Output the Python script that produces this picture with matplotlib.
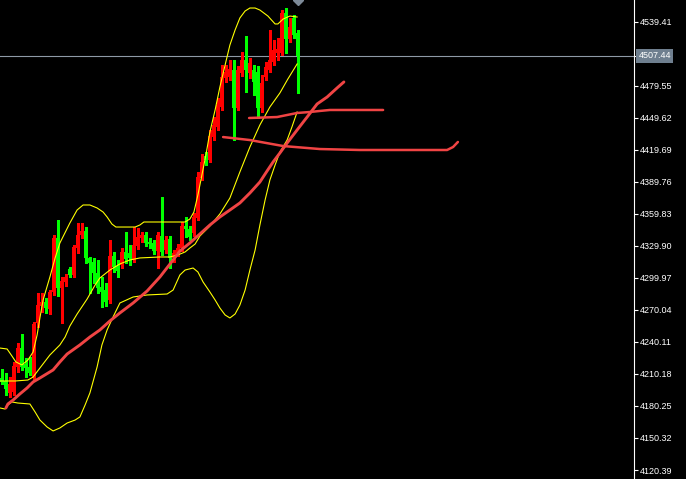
import numpy as np
import matplotlib
matplotlib.use('Agg')
import matplotlib.pyplot as plt

# Candle data (bar index 0..74), prices
opens = [4206.4, 4203.6, 4192.4, 4193.3, 4216.7, 4234.4, 4219.5, 4216.7, 4206.4, 4257.8,
         4273.7, 4277.4, 4270.9, 4286.8, 4337.3, 4290.5, 4296.1, 4308.3, 4302.7, 4327.9,
         4340.1, 4343.8, 4318.6, 4314.8, 4304.5, 4291.4, 4288.7, 4279.3, 4320.4, 4311.1,
         4312.0, 4324.2, 4323.2, 4317.6, 4329.7, 4337.3, 4340.1, 4333.5, 4332.6, 4325.1,
         4339.1, 4326.0, 4336.3, 4318.6, 4323.2, 4327.9, 4348.4, 4345.7, 4341.9, 4355.9,
         4393.3, 4413.9, 4410.2, 4431.7, 4441.0, 4459.7, 4486.8, 4487.7, 4494.3, 4458.8,
         4491.5, 4503.6, 4491.5, 4494.3, 4492.4, 4458.8, 4487.7, 4494.3, 4501.8, 4510.2,
         4510.2, 4547.5, 4523.2, 4542.9, 4528.9]
highs = [4214.8, 4211.1, 4207.3, 4221.4, 4239.1, 4247.5, 4225.1, 4226.0, 4258.7, 4285.8,
         4285.8, 4281.2, 4288.7, 4340.1, 4354.1, 4300.8, 4303.6, 4310.1, 4330.7, 4351.3,
         4351.3, 4347.5, 4319.5, 4318.6, 4316.7, 4300.8, 4295.2, 4335.4, 4324.2, 4316.7,
         4327.9, 4342.9, 4330.7, 4347.5, 4346.6, 4342.9, 4342.9, 4337.3, 4335.4, 4342.9,
         4375.6, 4339.1, 4339.1, 4326.0, 4331.6, 4352.2, 4356.9, 4348.4, 4360.6, 4398.9,
         4415.8, 4417.6, 4438.2, 4450.3, 4468.1, 4498.9, 4498.9, 4503.6, 4503.6, 4498.0,
         4511.1, 4526.0, 4505.5, 4498.9, 4498.0, 4489.6, 4501.8, 4531.7, 4522.3, 4524.2,
         4550.3, 4552.2, 4542.9, 4545.7, 4531.7]
lows = [4200.8, 4190.5, 4188.6, 4190.5, 4212.0, 4213.9, 4207.3, 4209.2, 4204.5, 4254.1,
        4268.1, 4267.2, 4266.2, 4284.0, 4283.0, 4257.8, 4292.4, 4300.8, 4300.8, 4323.2,
        4337.3, 4313.9, 4285.8, 4295.2, 4285.8, 4272.8, 4273.7, 4276.5, 4305.5, 4300.8,
        4309.2, 4313.9, 4312.0, 4314.8, 4327.0, 4333.5, 4329.7, 4327.9, 4322.3, 4309.2,
        4321.4, 4323.2, 4309.2, 4314.8, 4320.4, 4325.1, 4338.2, 4335.4, 4339.1, 4354.1,
        4391.5, 4405.5, 4408.3, 4428.8, 4438.2, 4456.9, 4483.1, 4484.9, 4428.8, 4456.9,
        4488.7, 4473.7, 4486.8, 4470.9, 4449.4, 4455.0, 4484.9, 4492.4, 4498.9, 4503.6,
        4508.3, 4510.2, 4520.4, 4524.2, 4472.8]
closes = [4202.7, 4196.1, 4200.8, 4217.6, 4234.4, 4216.7, 4215.7, 4211.1, 4256.9, 4274.6,
          4277.4, 4271.8, 4286.8, 4337.3, 4290.5, 4297.1, 4300.8, 4302.7, 4328.8, 4340.1,
          4343.8, 4318.6, 4313.9, 4304.5, 4290.5, 4286.8, 4277.4, 4320.4, 4310.1, 4306.4,
          4324.2, 4317.6, 4318.6, 4330.7, 4338.2, 4340.1, 4332.6, 4331.6, 4325.1, 4340.1,
          4324.2, 4335.4, 4318.6, 4323.2, 4327.9, 4348.4, 4345.7, 4338.2, 4356.9, 4394.3,
          4408.3, 4410.2, 4432.6, 4442.9, 4461.6, 4487.7, 4492.4, 4495.2, 4458.8, 4494.3,
          4503.6, 4494.3, 4500.8, 4483.1, 4458.8, 4482.1, 4497.1, 4503.6, 4513.0, 4513.9,
          4547.5, 4523.2, 4534.5, 4527.0, 4507.44]

# Bollinger bands (bar index, price)
bb_upper_x = [-0.4, 1.4, 2.6, 3.6, 5.1, 6.6, 7.9, 8.9, 9.6, 10.4, 12.1, 13.4, 14.6, 17.1, 18.9,
              20.4, 22.1, 23.9, 25.4, 26.4, 27.6, 28.6, 30.9, 33.4, 34.6, 35.6, 39.6, 43.4, 45.9,
              47.1, 48.1, 49.1, 50.1, 51.1, 52.1, 53.4, 54.6, 55.9, 57.1, 58.4, 59.6, 60.9, 62.1,
              63.4, 64.6, 66.6, 68.4, 69.1, 70.4, 72.1, 73.9]
bb_upper = [4234.4, 4233.5, 4227.0, 4221.4, 4218.6, 4223.2, 4230.7, 4246.6, 4262.5, 4279.3, 4300.8,
            4318.6, 4332.6, 4351.3, 4363.4, 4368.1, 4368.1, 4365.3, 4361.5, 4356.9, 4350.3, 4347.5,
            4347.5, 4347.5, 4349.4, 4352.2, 4352.2, 4352.2, 4352.2, 4355.0, 4361.5, 4377.4, 4396.1,
            4414.8, 4436.3, 4456.9, 4478.4, 4498.9, 4517.6, 4531.7, 4542.9, 4549.4, 4552.2, 4552.2,
            4550.3, 4544.7, 4537.3, 4537.3, 4541.9, 4544.7, 4543.8]
bb_mid_x = [-0.4, 3.4, 6.6, 7.9, 9.6, 12.1, 14.6, 15.9, 17.1, 18.9, 21.4, 23.4, 24.6, 27.1, 29.6,
            32.1, 34.6, 39.6, 42.1, 44.1, 45.9, 47.1, 48.4, 49.6, 52.1, 54.6, 57.1, 59.6, 62.1,
            64.6, 67.1, 69.6, 71.6, 73.9]
bb_mid = [4203.6, 4203.6, 4204.5, 4207.3, 4215.7, 4227.9, 4237.3, 4244.7, 4255.0, 4266.2, 4280.2,
          4293.3, 4299.9, 4307.3, 4313.0, 4316.7, 4318.6, 4319.5, 4319.5, 4321.4, 4324.2, 4327.9,
          4331.6, 4339.1, 4348.4, 4359.7, 4374.6, 4399.0, 4422.3, 4442.9, 4459.7, 4472.8, 4485.9,
          4499.9]
bb_lower_x = [-0.4, 0.9, 1.6, 2.6, 4.1, 7.1, 8.4, 9.6, 11.4, 12.9, 14.6, 16.4, 18.4, 19.6, 20.9,
              22.1, 23.9, 25.1, 26.4, 27.9, 29.6, 32.9, 36.4, 41.4, 42.9, 44.6, 45.9, 47.9, 49.1,
              50.4, 52.1, 53.4, 54.6, 55.9, 57.1, 58.4, 59.6, 60.9, 62.1, 63.4, 64.6, 65.9, 67.1,
              68.4, 69.6, 71.4, 72.6, 73.9]
bb_lower = [4178.4, 4177.4, 4181.2, 4184.0, 4183.0, 4182.1, 4174.6, 4167.1, 4160.6, 4156.9, 4159.7,
            4164.3, 4167.1, 4170.0, 4181.2, 4192.4, 4216.7, 4237.2, 4251.3, 4263.5, 4276.5, 4282.1,
            4284.0, 4284.9, 4288.6, 4302.7, 4307.3, 4309.2, 4305.5, 4296.1, 4286.8, 4279.3, 4271.8,
            4265.3, 4262.5, 4266.2, 4274.6, 4288.6, 4307.3, 4326.0, 4349.4, 4372.8, 4391.5, 4405.5,
            4417.6, 4428.8, 4440.9, 4455.0]

# Shifted moving average and the two projected red lines
ma_x = [1.1, 1.6, 2.9, 4.6, 6.4, 7.9, 9.6, 12.9, 14.6, 16.4, 19.6, 22.1, 24.6, 27.1, 29.6, 32.9,
        36.4, 39.6, 42.9, 44.6, 47.1, 49.6, 52.1, 54.6, 57.1, 59.6, 62.1, 64.6, 66.4, 67.9, 69.6,
        71.4, 73.9, 76.4, 78.9, 81.4, 83.9, 85.6]
ma = [4178.4, 4182.1, 4185.8, 4191.5, 4197.1, 4202.7, 4206.4, 4213.9, 4221.4, 4228.8, 4237.3,
      4244.7, 4251.3, 4259.7, 4267.2, 4276.5, 4287.7, 4300.8, 4316.7, 4325.1, 4332.6, 4341.0,
      4349.4, 4356.9, 4363.4, 4370.0, 4379.3, 4389.6, 4399.9, 4408.3, 4416.7, 4426.0, 4438.2,
      4450.3, 4462.5, 4469.0, 4477.5, 4483.1]
line_a_x = [55.4, 62.1, 70.4, 79.6, 89.6, 111.4, 112.9, 114.1]
line_a = [4431.6, 4428.8, 4423.2, 4420.4, 4419.5, 4419.5, 4422.3, 4427.0]
line_b_x = [61.9, 68.9, 73.9, 77.1, 79.6, 82.1, 95.4]
line_b = [4449.4, 4450.3, 4454.1, 4455.0, 4456.0, 4456.9, 4456.9]

# Price scale
tick_prices = [4539.41, 4479.55, 4449.62, 4419.69, 4389.76, 4359.83, 4329.90,
               4299.97, 4270.04, 4240.11, 4210.18, 4180.25, 4150.32, 4120.39]
bid = 4507.44

plt.rcParams['font.family'] = ['Liberation Sans', 'DejaVu Sans']

fig = plt.figure(figsize=(6.86, 4.79), dpi=100, facecolor='black')
ax = fig.add_axes([0, 0, 634 / 686, 1])
ax.set_facecolor('black')
ax.set_xlim(-0.375, 158.125)
ax.set_ylim(4111.99, 4559.69)

# Candles: red = up, green = down
idx = np.arange(len(opens))
o = np.array(opens)
c = np.array(closes)
cols = np.where(c >= o, '#ff0000', '#00ff00')
ax.vlines(idx, lows, highs, colors=cols, linewidth=0.75, antialiased=False, zorder=2)
ax.bar(idx, np.maximum(np.abs(c - o), 0.9), bottom=np.minimum(o, c), width=0.76,
       color=cols, linewidth=0, antialiased=False, zorder=3)

# Indicators
ax.axhline(bid, color='#8e99a6', linewidth=0.8, zorder=1)
for bx, by in [(bb_upper_x, bb_upper), (bb_mid_x, bb_mid), (bb_lower_x, bb_lower)]:
    ax.plot(bx, by, color='#ffff00', linewidth=0.8, zorder=4)
red = '#f04444'
ax.plot(ma_x, ma, color=red, linewidth=2.1, solid_capstyle='round', zorder=5)
ax.plot(line_a_x, line_a, color=red, linewidth=1.8, solid_capstyle='round', zorder=5)
ax.plot(line_b_x, line_b, color=red, linewidth=1.8, solid_capstyle='round', zorder=5)

# Small marker at top over the last bar
ax.plot([74], [4559.69], marker='D', markersize=5, color='#7d8a98', clip_on=True, zorder=6)

# Axis styling
for s in ['top', 'bottom', 'left']:
    ax.spines[s].set_visible(False)
ax.spines['right'].set_color('white')
ax.spines['right'].set_linewidth(0.8)
ax.set_xticks([])
ax.yaxis.tick_right()
ax.set_yticks(tick_prices + [bid])
ax.set_yticklabels([f'{p:.2f}' for p in tick_prices] + [''])
ax.tick_params(axis='y', colors='white', labelcolor='white', labelsize=6.5,
               length=3, width=0.8, pad=1.5)

ax.text(1.007, bid, f'{bid:.2f}', transform=ax.get_yaxis_transform(), ha='left', va='center',
        fontsize=6.5, color='white',
        bbox=dict(boxstyle='square,pad=0.25', facecolor='#6f7f8f', edgecolor='none'))

fig.savefig('out.png', dpi=100, facecolor='black')
